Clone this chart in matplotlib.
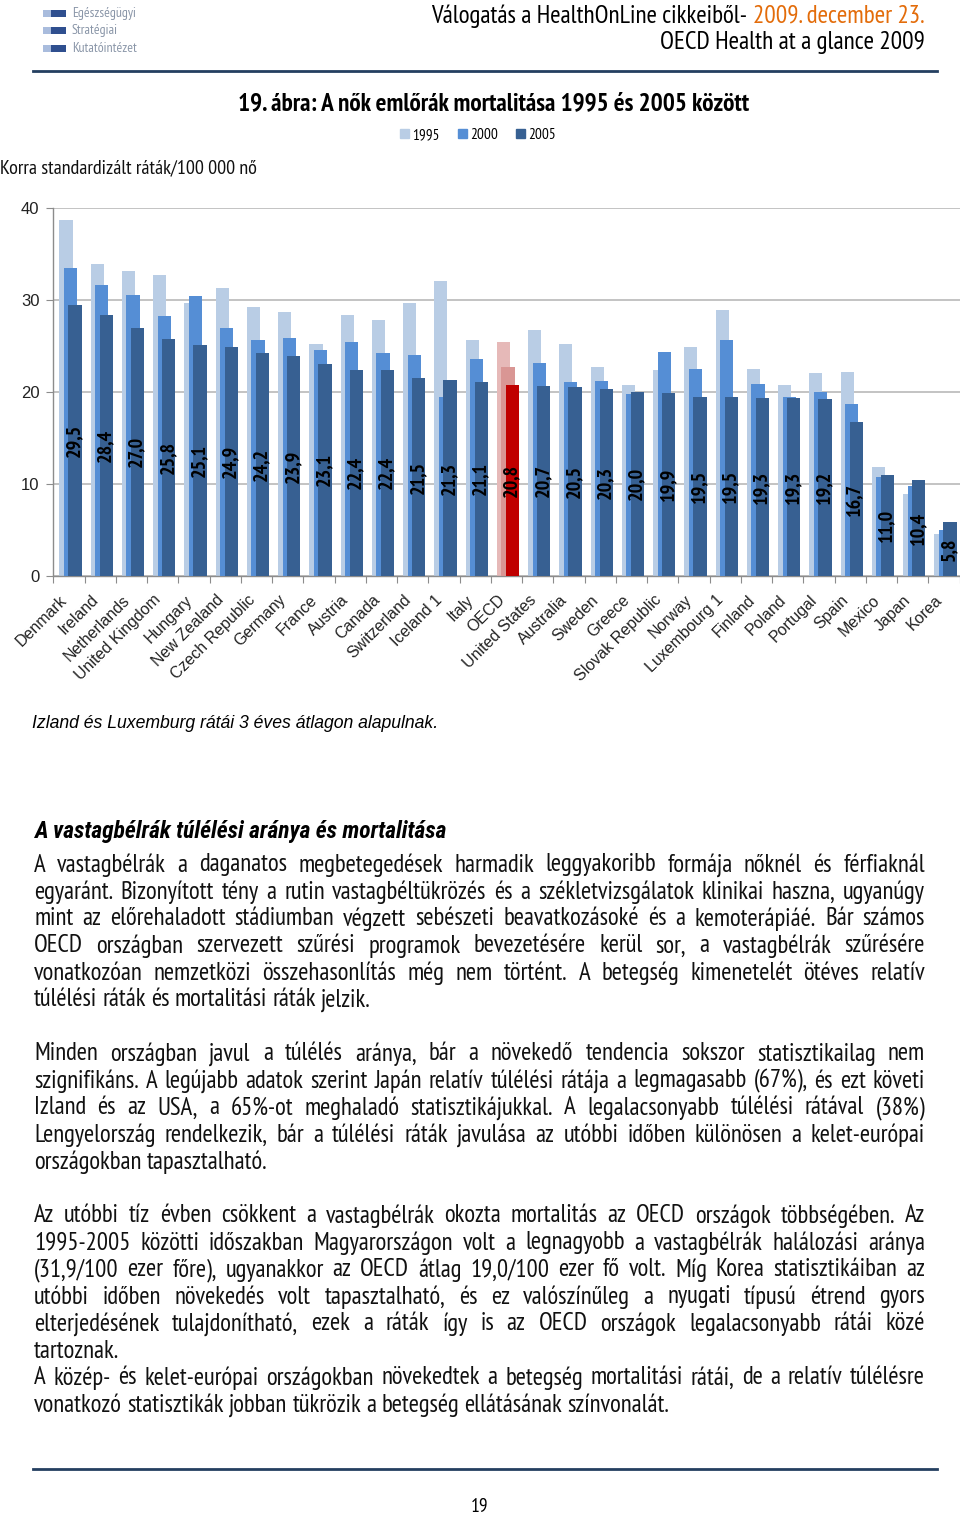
import matplotlib
matplotlib.use('Agg')
import matplotlib.pyplot as plt
import numpy as np
from matplotlib import font_manager as fm
from matplotlib.patches import Rectangle
from matplotlib.lines import Line2D

# ---------------- data ----------------
countries = ["Denmark", "Ireland", "Netherlands", "United Kingdom", "Hungary",
             "New Zealand", "Czech Republic", "Germany", "France", "Austria",
             "Canada", "Switzerland", "Iceland 1", "Italy", "OECD",
             "United States", "Australia", "Sweden", "Greece", "Slovak Republic",
             "Norway", "Luxembourg 1", "Finland", "Poland", "Portugal", "Spain",
             "Mexico", "Japan", "Korea"]
v1995 = [38.7, 33.9, 33.2, 32.7, 29.7, 31.3, 29.3, 28.7, 25.2, 28.4,
         27.8, 29.7, 32.1, 25.7, 25.4, 26.8, 25.2, 22.7, 20.8, 22.4,
         24.9, 28.9, 22.5, 20.8, 22.1, 22.2, 11.8, 8.9, 4.5]
v2000 = [33.5, 31.6, 30.6, 28.3, 30.5, 27.0, 25.7, 25.9, 24.6, 25.4,
         24.3, 24.0, 19.5, 23.6, 22.7, 23.2, 21.1, 21.2, 19.8, 24.4,
         22.5, 25.7, 20.9, 19.5, 20.0, 18.7, 10.7, 9.8, 5.0]
v2005 = [29.5, 28.4, 27.0, 25.8, 25.1, 24.9, 24.2, 23.9, 23.1, 22.4,
         22.4, 21.5, 21.3, 21.1, 20.8, 20.7, 20.5, 20.3, 20.0, 19.9,
         19.5, 19.5, 19.3, 19.3, 19.2, 16.7, 11.0, 10.4, 5.8]
series_names = ["1995", "2000", "2005"]
yticks = [0, 10, 20, 30, 40]
highlight = "OECD"

title = "19. ábra: A nők emlőrák mortalitása 1995 és 2005 között"
ylabel = "Korra standardizált ráták/100 000 nő"
note = "Izland és Luxemburg rátái 3 éves átlagon alapulnak."
heading = "A vastagbélrák túlélési aránya és mortalitása"
header1a = "Válogatás a HealthOnLine cikkeiből-"
header1b = "2009. december 23."
header2 = "OECD Health at a glance 2009"
logo_lines = ["Egészségügyi", "Stratégiai", "Kutatóintézet"]

body = [
    ("A vastagbélrák a daganatos megbetegedések harmadik leggyakoribb formája nőknél és férfiaknál", True),
    ("egyaránt. Bizonyított tény a rutin vastagbéltükrözés és a székletvizsgálatok klinikai haszna, ugyanúgy", True),
    ("mint az előrehaladott stádiumban végzett sebészeti beavatkozásoké és a kemoterápiáé. Bár számos", True),
    ("OECD országban szervezett szűrési programok bevezetésére kerül sor, a vastagbélrák szűrésére", True),
    ("vonatkozóan nemzetközi összehasonlítás még nem történt. A betegség kimenetelét ötéves relatív", True),
    ("túlélési ráták és mortalitási ráták jelzik.", False),
    None,
    ("Minden országban javul a túlélés aránya, bár a növekedő tendencia sokszor statisztikailag nem", True),
    ("szignifikáns. A legújabb adatok szerint Japán relatív túlélési rátája a legmagasabb (67%), és ezt követi", True),
    ("Izland és az USA, a 65%-ot meghaladó statisztikájukkal. A legalacsonyabb túlélési rátával (38%)", True),
    ("Lengyelország rendelkezik, bár a túlélési ráták javulása az utóbbi időben különösen a kelet-európai", True),
    ("országokban tapasztalható.", False),
    None,
    ("Az utóbbi tíz évben csökkent a vastagbélrák okozta mortalitás az OECD országok többségében. Az", True),
    ("1995-2005 közötti időszakban Magyarországon volt a legnagyobb a vastagbélrák halálozási aránya", True),
    ("(31,9/100 ezer főre), ugyanakkor az OECD átlag 19,0/100 ezer fő volt. Míg Korea statisztikáiban az", True),
    ("utóbbi időben növekedés volt tapasztalható, és ez valószínűleg a nyugati típusú étrend gyors", True),
    ("elterjedésének tulajdonítható, ezek a ráták így is az OECD országok legalacsonyabb rátái közé", True),
    ("tartoznak.", False),
    ("A közép- és kelet-európai országokban növekedtek a betegség mortalitási rátái, de a relatív túlélésre", True),
    ("vonatkozó statisztikák jobban tükrözik a betegség ellátásának színvonalát.", False),
]

# ---------------- fonts ----------------
flist = fm.fontManager.ttflist
ARIAL = 'Liberation Sans'
NARROW_CANDS = ['Liberation Sans Narrow', 'Arial Narrow', 'PT Sans Narrow',
                'Roboto Condensed', 'Archivo Narrow', 'Asap Condensed', 'Liberation Sans']


def pick(weight=400, style='normal'):
    for c in NARROW_CANDS:
        for f in flist:
            if f.name != c or f.style != style:
                continue
            base = f.fname.split('/')[-1]
            if weight >= 600:
                if f.weight >= 600 and '[' not in base:
                    return c
            else:
                if abs(int(f.weight) - 400) <= 100:
                    return c
    return 'Liberation Sans'


N_REG = pick(400, 'normal')
N_BOLD = pick(700, 'normal')
N_BI = pick(700, 'italic')
plt.rcParams['font.family'] = [ARIAL, 'DejaVu Sans']

W, H = 960, 1515
fig = plt.figure(figsize=(W / 100, H / 100), dpi=100)
fig.patch.set_facecolor('white')
R = fig.canvas.get_renderer()


def fx(x):
    return x / W


def fy(y):
    return 1 - y / H


def fit_text(s, x0, x1, y, size=12, **kw):
    t = fig.text(fx(x0), fy(y), s, va='center', ha='left', fontsize=size, **kw)
    w = t.get_window_extent(R).width
    t.set_fontsize(size * (x1 - x0) / w)
    return t


def fit_right(s, x1, width, y, size=12, **kw):
    t = fig.text(fx(x1), fy(y), s, va='center', ha='right', fontsize=size, **kw)
    w = t.get_window_extent(R).width
    t.set_fontsize(size * width / w)
    return t


# ---------------- header ----------------
navy = '#243F60'
fig.add_artist(Line2D([fx(33), fx(937)], [fy(71), fy(71)], color=navy, lw=2.0))
fig.add_artist(Line2D([fx(33), fx(937)], [fy(1469), fy(1469)], color=navy, lw=2.0))

logo_t = fit_text(logo_lines[2], 72, 137, 48, size=8, color='#8A96A8',
                  family=[N_REG, 'DejaVu Sans'])
logo_size = logo_t.get_fontsize()
for yy, txt in zip([13.5, 30.5, 48], logo_lines):
    fig.add_artist(Rectangle((fx(43), fy(yy + 3.5)), 8 / W, 7 / H, color='#A9BCDD', lw=0))
    fig.add_artist(Rectangle((fx(51), fy(yy + 3.5)), 15 / W, 7 / H, color='#2F4F8F', lw=0))
    if txt != logo_lines[2]:
        fig.text(fx(72), fy(yy), txt, fontsize=logo_size, color='#8A96A8', va='center',
                 ha='left', family=[N_REG, 'DejaVu Sans'])

fit_right(header1b, 925, 172, 16, size=16, color='#E36C0A', family=[N_REG, 'DejaVu Sans'])
fit_right(header1a, 925 - 172 - 6, 316, 16, size=16, color='black', family=[N_REG, 'DejaVu Sans'])
fit_right(header2, 925, 265, 43, size=16, color='black', family=[N_REG, 'DejaVu Sans'])

# ---------------- chart ----------------
fit_text(title, 238, 750, 104, size=15, weight='bold', family=[N_BOLD, 'DejaVu Sans'])
fit_text(ylabel, 0, 258, 168, size=11, family=[N_REG, 'DejaVu Sans'], color='#111111')

ax_left, ax_right, ax_top, ax_bot = 53.3, 959.5, 208.3, 575.7
ax = fig.add_axes([fx(ax_left), fy(ax_bot), (ax_right - ax_left) / W, (ax_bot - ax_top) / H])
n = len(countries)
x = np.arange(n)
bw = 0.42
off = 0.145
shift = 0.05
blue = ['#B9CDE5', '#558ED5', '#376092']
red = ['#E6B9B8', '#D99694', '#C00000']
cols = [[(red if c == highlight else blue)[k] for c in countries] for k in range(3)]
vals = [v1995, v2000, v2005]
for k in range(3):
    ax.bar(x + shift + (k - 1) * off, vals[k], width=bw, color=cols[k], lw=0,
           zorder=2 + k, label=series_names[k])

for i, v in enumerate(v2005):
    ax.text(x[i] + shift + off - 0.03, v / 2, f"{v:.1f}".replace('.', ','), rotation=90,
            ha='center', va='center', fontsize=14.5, weight='bold', color='black',
            family=[N_BOLD, 'DejaVu Sans'], zorder=10)

ax.set_xlim(-0.5, n - 0.5)
ax.set_ylim(0, 40)
ax.set_yticks(yticks)
ax.set_yticklabels([str(t) for t in yticks], fontsize=12, color='#222222')
ax.yaxis.grid(True, color='#BEBEBE', lw=1.3, zorder=0)
ax.set_axisbelow(True)
for s in ['top', 'right']:
    ax.spines[s].set_visible(False)
for s in ['left', 'bottom']:
    ax.spines[s].set_color('#8C8C8C')
    ax.spines[s].set_linewidth(1.0)
ax.tick_params(axis='y', length=5, color='#8C8C8C', pad=5)
ax.set_xticks(np.arange(-0.5, n, 1.0), minor=False)
ax.set_xticklabels([])
ax.tick_params(axis='x', length=5, color='#8C8C8C')
for i, c in enumerate(countries):
    ax.text(x[i] - 0.3, -1.8, c, rotation=45, ha='right', va='top',
            rotation_mode='anchor', fontsize=11.5, color='#222222',
            transform=ax.transData, clip_on=False)

handles = [Rectangle((0, 0), 1, 1, color=blue[k]) for k in range(3)]
fig.legend(handles, series_names, loc='center', ncol=3, frameon=False,
           bbox_to_anchor=(fx(478), fy(135)), handlelength=0.6, handleheight=0.6,
           handletextpad=0.2, columnspacing=1.2,
           prop={'family': [N_REG, 'DejaVu Sans'], 'size': 11})

# ---------------- text ----------------
fit_text(note, 32, 440, 723, size=12, style='italic', family=[ARIAL, 'DejaVu Sans'])
fit_text(heading, 34, 447, 831, size=14, style='italic', weight='bold',
         family=[N_BI, 'DejaVu Sans'])

# calibrate body size so the last (unjustified) line has the reference width
base = 15.0
cal = fig.text(0, 0, body[-1][0], fontsize=base, family=[N_REG, 'DejaVu Sans'])
body_size = base * (670 - 34) / cal.get_window_extent(R).width
cal.remove()

probe = fig.text(0, 0, "x x", fontsize=body_size, family=[N_REG, 'DejaVu Sans'])
probe2 = fig.text(0, 0, "xx", fontsize=body_size, family=[N_REG, 'DejaVu Sans'])
space_w = probe.get_window_extent(R).width - probe2.get_window_extent(R).width
probe.remove()
probe2.remove()

x0, x1 = 34, 925
y = 865
for item in body:
    if item is None:
        y += 27
        continue
    line, just = item
    words = line.split(' ')
    ts = [fig.text(0, 0, w_, fontsize=body_size, va='center', ha='left',
                   family=[N_REG, 'DejaVu Sans'], color='#111111') for w_ in words]
    ws = [t.get_window_extent(R).width for t in ts]
    tot = sum(ws)
    if just and len(words) > 1:
        gap = (x1 - x0 - tot) / (len(words) - 1)
        if gap < 0.6 * space_w:
            sc = (x1 - x0 - 0.7 * space_w * (len(words) - 1)) / tot
            for t in ts:
                t.set_fontsize(body_size * sc)
            ws = [t.get_window_extent(R).width for t in ts]
            gap = (x1 - x0 - sum(ws)) / (len(words) - 1)
    else:
        gap = space_w
    xx = x0
    for t, w_ in zip(ts, ws):
        t.set_position((fx(xx), fy(y)))
        xx += w_ + gap
    y += 27

fig.text(fx(480), fy(1507), "19", ha='center', va='center', fontsize=14,
         family=[N_REG, 'DejaVu Sans'])

fig.savefig('out.png', dpi=100, facecolor='white')
